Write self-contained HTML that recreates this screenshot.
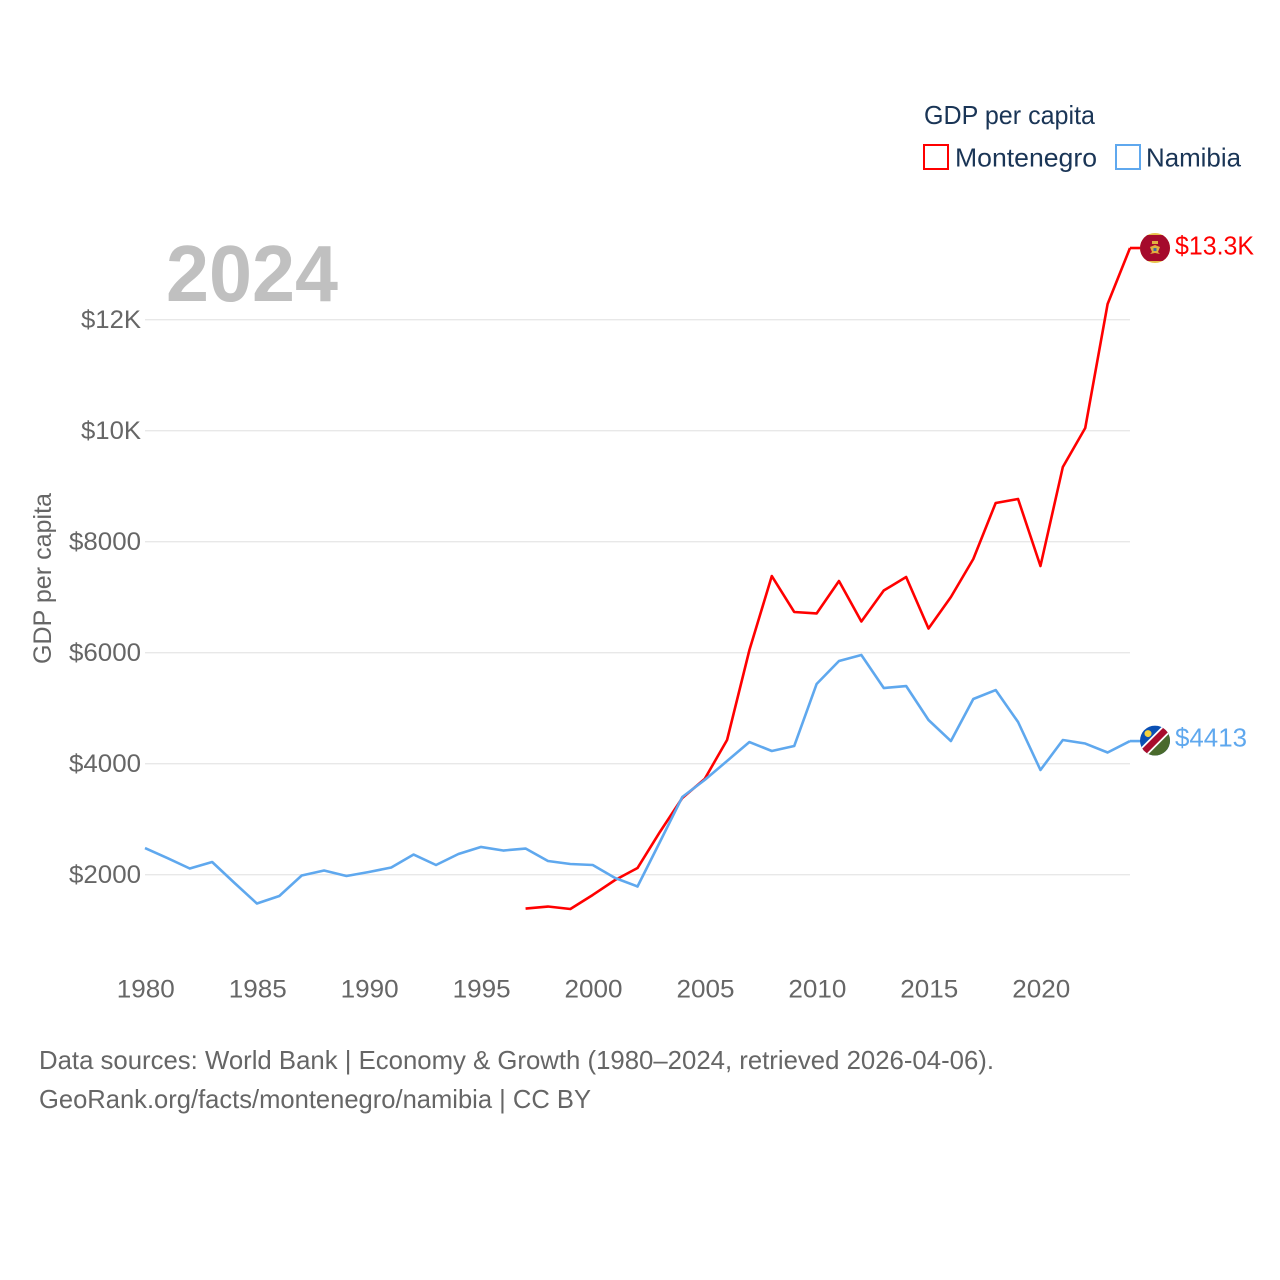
<!DOCTYPE html>
<html lang="en">
<head>
<meta charset="utf-8">
<title>GDP per capita: Montenegro and Namibia</title>
<style>
html,body{margin:0;padding:0;background:#fff;width:1280px;height:1280px;overflow:hidden}
svg{display:block;font-family:"Liberation Sans",sans-serif}
</style>
</head>
<body>
<svg id="chart" width="1280" height="1280" viewBox="0 0 1280 1280" xmlns="http://www.w3.org/2000/svg">
  <defs>
    <clipPath id="flag-clip"><circle cx="0" cy="0" r="15"/></clipPath>
  </defs>
  <rect width="1280" height="1280" fill="#fff"/>
  <text x="166" y="301" font-size="80" font-weight="700" fill="#c0c0c0" textLength="172" lengthAdjust="spacingAndGlyphs">2024</text>
  <g id="grid"></g>
  <g id="yticks"></g>
  <g id="xticks"></g>
  <g id="series"></g>
  <text transform="translate(51,664) rotate(-90)" font-size="25" fill="#666" textLength="171" lengthAdjust="spacingAndGlyphs">GDP per capita</text>

  <g>
    <text x="924" y="124" font-size="26" fill="#1a3556" textLength="171" lengthAdjust="spacingAndGlyphs">GDP per capita</text>
    <g>
      <rect x="924" y="145" width="24" height="24" fill="none" stroke="#ff0000" stroke-width="2"/>
      <text x="955" y="166.5" font-size="26" fill="#1a3556" textLength="142" lengthAdjust="spacingAndGlyphs">Montenegro</text>
    </g>
    <g>
      <rect x="1116" y="145" width="24" height="24" fill="none" stroke="#5fa8ee" stroke-width="2"/>
      <text x="1146" y="166.5" font-size="26" fill="#1a3556" textLength="95" lengthAdjust="spacingAndGlyphs">Namibia</text>
    </g>
  </g>

  <g id="flag-me">
    <g clip-path="url(#flag-clip)">
      <rect x="-15" y="-15" width="30" height="30" fill="#e8c24c"/>
      <rect x="-15" y="-13" width="30" height="26" fill="#a50a2c"/>
      <path d="M-5 -1 L0 -3 L5 -1 L3 4 L5 6 L0 5 L-5 6 L-3 4 Z" fill="#e0b040"/>
      <path d="M-3 -7 L3 -7 L3 -4 L-3 -4 Z" fill="#e0b040"/>
      <rect x="-1.5" y="0" width="3" height="3" fill="#3a6aa8"/>
    </g>
  </g>
  <g id="flag-na">
    <g clip-path="url(#flag-clip)">
      <rect x="-15" y="-15" width="30" height="30" fill="#0a50b4"/>
      <path d="M15 -15 L15 15 L-15 15 Z" fill="#4a6a2c"/>
      <path d="M-15 15 L15 -15" stroke="#fff" stroke-width="10"/>
      <path d="M-15 15 L15 -15" stroke="#a80c2c" stroke-width="6.5"/>
      <circle cx="-7" cy="-7" r="3.5" fill="#f4d23c"/>
    </g>
  </g>
  <g id="endlabels"></g>

  <g>
    <text x="39" y="1069" font-size="26" fill="#666" textLength="955" lengthAdjust="spacingAndGlyphs">Data sources: World Bank | Economy &amp; Growth (1980–2024, retrieved 2026-04-06).</text>
    <text x="39" y="1108" font-size="26" fill="#666" textLength="552" lengthAdjust="spacingAndGlyphs">GeoRank.org/facts/montenegro/namibia | CC BY</text>
  </g>
</svg>
<script>
const years = [1980,1981,1982,1983,1984,1985,1986,1987,1988,1989,1990,1991,1992,1993,1994,1995,1996,1997,1998,1999,2000,2001,2002,2003,2004,2005,2006,2007,2008,2009,2010,2011,2012,2013,2014,2015,2016,2017,2018,2019,2020,2021,2022,2023,2024];
const namibiaValues = [2486,2306,2117,2234,1856,1486,1622,1991,2081,1982,2054,2135,2369,2180,2378,2505,2441,2477,2252,2198,2180,1946,1793,2595,3405,3712,4054,4396,4234,4324,5441,5856,5964,5369,5405,4793,4414,5171,5333,4757,3892,4432,4369,4207,4413];
const montenegroYears = [1997,1998,1999,2000,2001,2002,2003,2004,2005,2006,2007,2008,2009,2010,2011,2012,2013,2014,2015,2016,2017,2018,2019,2020,2021,2022,2023,2024];
const montenegroValues = [1396,1432,1387,1640,1910,2126,2775,3387,3730,4432,6054,7387,6739,6712,7297,6568,7126,7369,6441,7009,7694,8703,8775,7568,9351,10054,12288,13297];
const yTickValues = [2000,4000,6000,8000,10000,12000];
const yTickLabels = ["$2000","$4000","$6000","$8000","$10K","$12K"];
const xTickValues = [1980,1985,1990,1995,2000,2005,2010,2015,2020];
const endLabelMontenegro = "$13.3K";
const endLabelNamibia = "$4413";

const NS = 'http://www.w3.org/2000/svg';
const xScale = function (year) { return 145 + (year - 1980) * (985 / 44); };
const yScale = function (value) { return 875 - (value - 2000) * 0.0555; };

function svgEl(tag, parentId) {
  const el = document.createElementNS(NS, tag);
  document.getElementById(parentId).appendChild(el);
  return el;
}

yTickValues.forEach(function (v, i) {
  const line = svgEl('line', 'grid');
  
  
  line.setAttribute('x1', 145);
  line.setAttribute('x2', 1130);
  line.setAttribute('y1', yScale(v) - 0.3);
  line.setAttribute('y2', yScale(v) - 0.3);
  line.setAttribute('stroke', '#e8e8e8');
  line.setAttribute('stroke-width', '1.3');

  const label = svgEl('text', 'yticks');
  
  
  label.setAttribute('x', 141);
  label.setAttribute('y', yScale(v) + 7.8);
  label.setAttribute('text-anchor', 'end');
  label.setAttribute('font-size', '25');
  label.setAttribute('fill', '#666');
  label.setAttribute('textLength', yTickLabels[i].length === 4 ? 60 : 72);
  label.setAttribute('lengthAdjust', 'spacingAndGlyphs');
  label.textContent = yTickLabels[i];
});

xTickValues.forEach(function (y) {
  const label = svgEl('text', 'xticks');
  
  
  label.setAttribute('x', xScale(y) + 0.8);
  label.setAttribute('y', 997.5);
  label.setAttribute('text-anchor', 'middle');
  label.setAttribute('font-size', '25');
  label.setAttribute('fill', '#666');
  label.setAttribute('textLength', 58);
  label.setAttribute('lengthAdjust', 'spacingAndGlyphs');
  label.textContent = String(y);
});

function pointsFor(xs, ys) {
  return xs.map(function (x, i) { return xScale(x).toFixed(2) + ',' + yScale(ys[i]).toFixed(2); }).join(' ');
}

const redLine = svgEl('polyline', 'series');


redLine.setAttribute('points', pointsFor(montenegroYears, montenegroValues));
redLine.setAttribute('fill', 'none');
redLine.setAttribute('stroke', '#ff0000');
redLine.setAttribute('stroke-width', '2.6');
redLine.setAttribute('stroke-linejoin', 'round');

const blueLine = svgEl('polyline', 'series');


blueLine.setAttribute('points', pointsFor(years, namibiaValues));
blueLine.setAttribute('fill', 'none');
blueLine.setAttribute('stroke', '#5fa8ee');
blueLine.setAttribute('stroke-width', '2.6');
blueLine.setAttribute('stroke-linejoin', 'round');

const redLast = montenegroValues[montenegroValues.length - 1];
const blueLast = namibiaValues[namibiaValues.length - 1];

const redStub = svgEl('line', 'series');


redStub.setAttribute('x1', 1130);
redStub.setAttribute('x2', 1142);
redStub.setAttribute('y1', yScale(redLast));
redStub.setAttribute('y2', yScale(redLast));
redStub.setAttribute('stroke', '#ff0000');
redStub.setAttribute('stroke-width', '2.6');

const blueStub = svgEl('line', 'series');


blueStub.setAttribute('x1', 1130);
blueStub.setAttribute('x2', 1142);
blueStub.setAttribute('y1', yScale(blueLast));
blueStub.setAttribute('y2', yScale(blueLast));
blueStub.setAttribute('stroke', '#5fa8ee');
blueStub.setAttribute('stroke-width', '2.6');

document.getElementById('flag-me').setAttribute('transform', 'translate(1155,' + yScale(redLast) + ')');
document.getElementById('flag-na').setAttribute('transform', 'translate(1155,' + (yScale(blueLast) - 0.5) + ')');

const redLabel = svgEl('text', 'endlabels');


redLabel.setAttribute('x', 1175);
redLabel.setAttribute('y', yScale(redLast) + 6.5);
redLabel.setAttribute('font-size', '26');
redLabel.setAttribute('fill', '#ff0000');
redLabel.setAttribute('textLength', 79);
redLabel.setAttribute('lengthAdjust', 'spacingAndGlyphs');
redLabel.textContent = endLabelMontenegro;

const blueLabel = svgEl('text', 'endlabels');


blueLabel.setAttribute('x', 1175);
blueLabel.setAttribute('y', yScale(blueLast) + 5.5);
blueLabel.setAttribute('font-size', '26');
blueLabel.setAttribute('fill', '#5fa8ee');
blueLabel.setAttribute('textLength', 72);
blueLabel.setAttribute('lengthAdjust', 'spacingAndGlyphs');
blueLabel.textContent = endLabelNamibia;
</script>
</body>
</html>
